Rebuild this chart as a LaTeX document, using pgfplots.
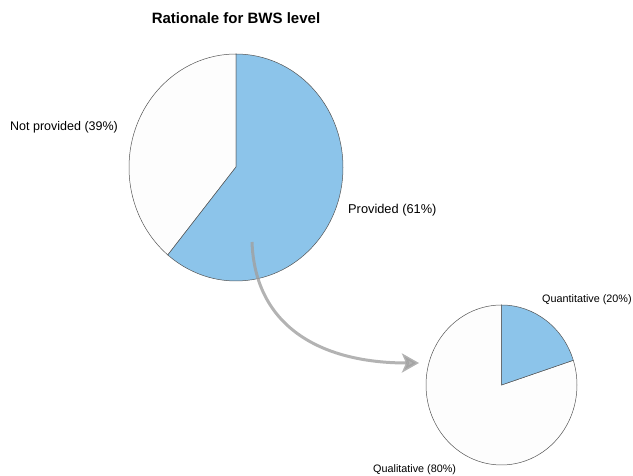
\documentclass[border=0pt]{standalone}
\usepackage{pgfplots}
\pgfplotsset{compat=1.18}
\usepackage{pgfplotstable}
\usepackage{fontspec}
\setmainfont{Liberation Sans}
\usetikzlibrary{arrows.meta}

\definecolor{sliceblue}{RGB}{140,196,234}
\definecolor{slicewhite}{RGB}{253,253,253}
\definecolor{edgegray}{RGB}{85,85,85}
\definecolor{arrowgray}{RGB}{160,160,160}

% Share of studies giving a rationale for the BWS level
\pgfplotstableread{
label value
Provided 61
NotProvided 39
}\mainpie

% Type of rationale among those that gave one
\pgfplotstableread{
label value
Quantitative 20
Qualitative 80
}\subpie

\begin{document}
\begin{tikzpicture}
% slice angles, clockwise from twelve o'clock
\pgfplotstablegetelem{0}{value}\of\mainpie
\pgfmathsetmacro\mainEnd{90-3.6*\pgfplotsretval}
\pgfplotstablegetelem{0}{value}\of\subpie
\pgfmathsetmacro\subEnd{90-3.6*\pgfplotsretval}
\begin{axis}[
  x=1pt, y=1pt,
  xmin=0, xmax=633, ymin=0, ymax=476,
  enlargelimits=false,
  hide axis,
  clip=false,
]
\path (axis cs:0,0) rectangle (axis cs:633,476);

% main pie
\filldraw[fill=slicewhite, draw=edgegray, line width=0.5pt]
  (axis cs:236,309) -- (axis cs:236,422)
  arc[start angle=90, end angle=\mainEnd+360, x radius=107, y radius=113.5] -- cycle;
\filldraw[fill=sliceblue, draw=edgegray, line width=0.5pt]
  (axis cs:236,309) -- (axis cs:236,422)
  arc[start angle=90, end angle=\mainEnd, x radius=107, y radius=113.5] -- cycle;

% breakdown pie
\filldraw[fill=slicewhite, draw=edgegray, line width=0.5pt]
  (axis cs:501.5,91) -- (axis cs:501.5,171)
  arc[start angle=90, end angle=\subEnd+360, x radius=75.5, y radius=80] -- cycle;
\filldraw[fill=sliceblue, draw=edgegray, line width=0.5pt]
  (axis cs:501.5,91) -- (axis cs:501.5,171)
  arc[start angle=90, end angle=\subEnd, x radius=75.5, y radius=80] -- cycle;

% link from the "Provided" slice to its breakdown
\draw[arrowgray, opacity=0.8, line width=3pt,
      -{Stealth[length=17pt, width=19pt, inset=4pt]}]
  (axis cs:252,234) .. controls (axis cs:255,150) and (axis cs:320,113) .. (axis cs:419,113);

% title and slice labels
\node[font=\bfseries\fontsize{15}{18}\selectfont, inner sep=0pt] at (axis cs:236,458) {Rationale for BWS level};
\node[font=\fontsize{12.5}{15}\selectfont, anchor=west, inner sep=0pt] at (axis cs:10,349) {Not provided (39\%)};
\node[font=\fontsize{12.8}{15}\selectfont, anchor=west, inner sep=0pt] at (axis cs:348,265.5) {Provided (61\%)};
\node[font=\fontsize{10.8}{13}\selectfont, anchor=west, inner sep=0pt] at (axis cs:542,176) {Quantitative (20\%)};
\node[font=\fontsize{10.8}{13}\selectfont, anchor=west, inner sep=0pt] at (axis cs:373,6.5) {Qualitative (80\%)};
\end{axis}
\end{tikzpicture}
\end{document}
